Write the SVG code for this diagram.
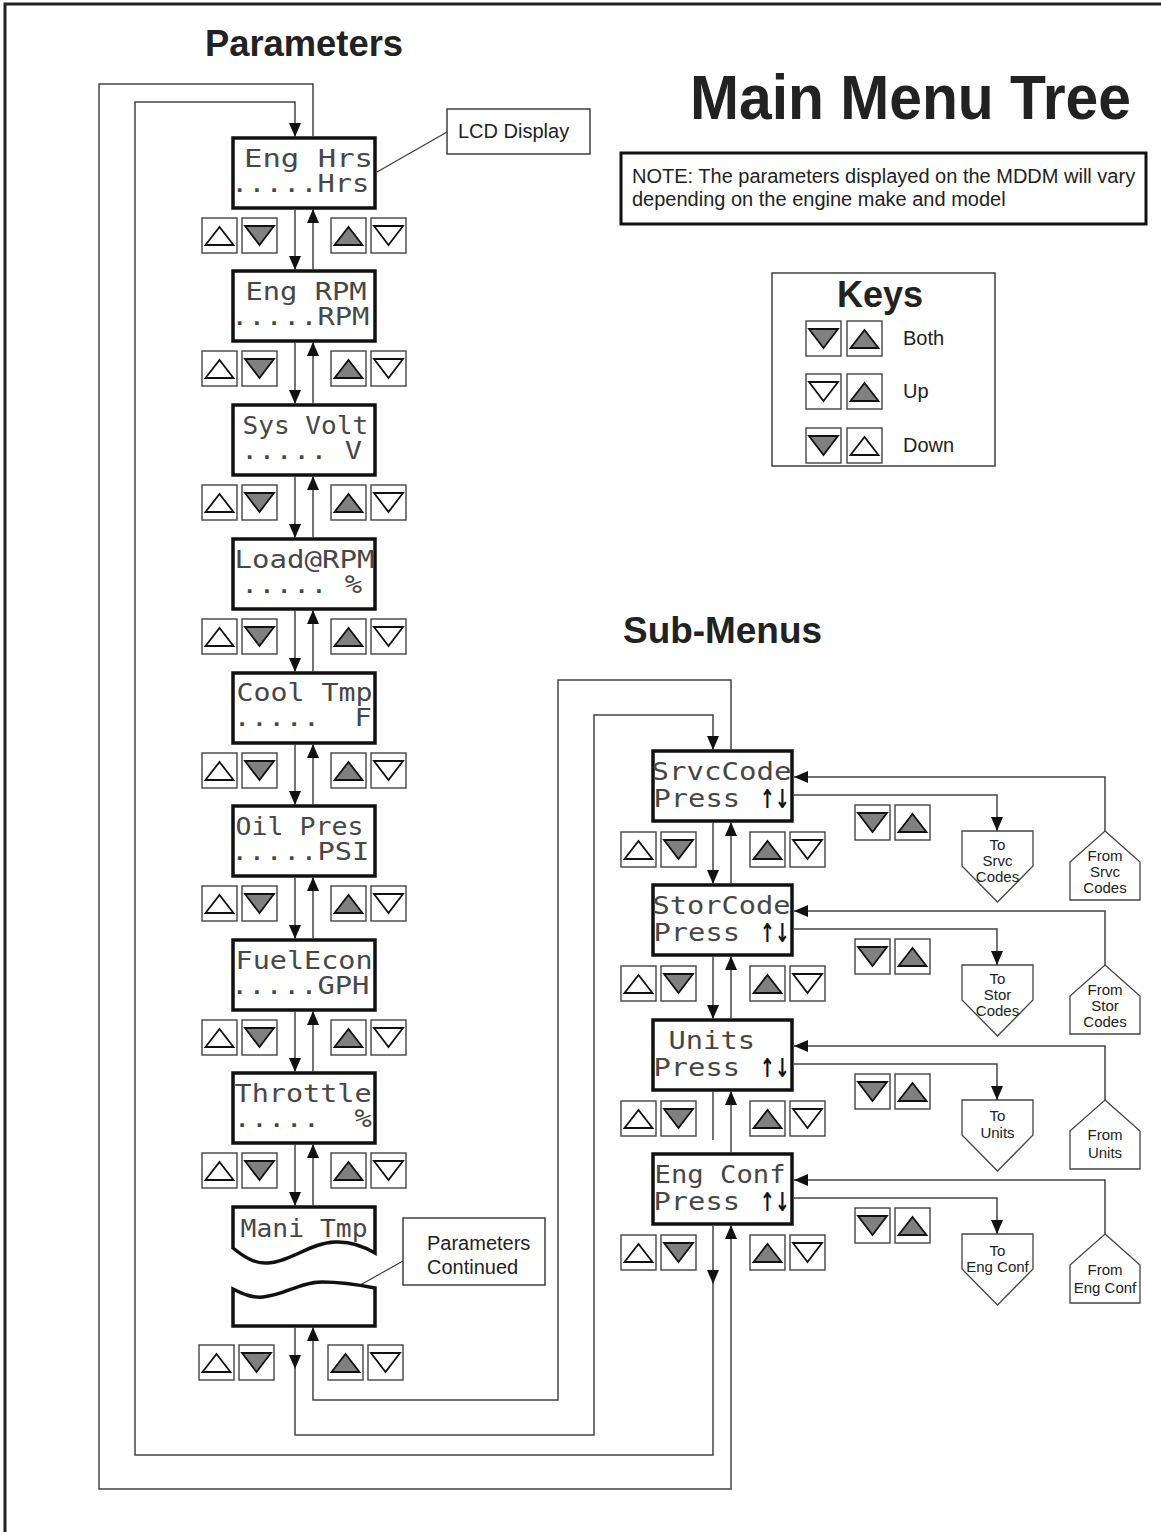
<svg xmlns="http://www.w3.org/2000/svg" xmlns:xlink="http://www.w3.org/1999/xlink" width="1161" height="1532" viewBox="0 0 1161 1532">
<style>
.btn{fill:#fff;stroke:#444;stroke-width:1.4}
.tw{fill:#fff;stroke:#111;stroke-width:1.8}
.tg{fill:#808080;stroke:#111;stroke-width:1.8}
.lcd{fill:#fff;stroke:#111;stroke-width:3.5}
.dm{font-family:"DejaVu Sans Mono","Liberation Mono",monospace;font-size:24px;fill:#474747}
.arr{font-family:"DejaVu Sans",sans-serif;font-weight:bold;font-size:26px;fill:#111}
.cn{fill:none;stroke:#444;stroke-width:1.5}
.ld{fill:none;stroke:#333;stroke-width:1.1}
.box{fill:#fff;stroke:#333;stroke-width:1.4}
.lbl{font-family:"Liberation Sans",Arial,sans-serif;font-size:20px;fill:#222}
.hd{font-family:"Liberation Sans",Arial,sans-serif;font-weight:bold;fill:#222}
.pt{font-family:"Liberation Sans",Arial,sans-serif;font-size:15px;text-anchor:middle;fill:#222}
.pent{fill:#fff;stroke:#444;stroke-width:1.3}
</style>
<defs>
<marker id="ah" viewBox="0 0 14 12" refX="14" refY="6" markerWidth="14" markerHeight="12" markerUnits="userSpaceOnUse" orient="auto"><path d="M0,0 L14,6 L0,12 z" fill="#111"/></marker>
<g id="bUW"><rect class="btn" width="35" height="35"/><polygon class="tw" points="3.5,27 31.5,27 17.5,9"/></g>
<g id="bUG"><rect class="btn" width="35" height="35"/><polygon class="tg" points="3.5,27 31.5,27 17.5,9"/></g>
<g id="bDW"><rect class="btn" width="35" height="35"/><polygon class="tw" points="3,8 32,8 17.5,27"/></g>
<g id="bDG"><rect class="btn" width="35" height="35"/><polygon class="tg" points="3,8 32,8 17.5,27"/></g>
</defs>
<rect width="1161" height="1532" fill="#fff"/>
<rect x="5" y="4" width="1170" height="1545" fill="none" stroke="#222" stroke-width="3"/>

<text class="hd" x="205" y="56" font-size="36" textLength="198" lengthAdjust="spacingAndGlyphs">Parameters</text>
<text class="hd" x="690" y="119" font-size="63" textLength="441" lengthAdjust="spacingAndGlyphs">Main Menu Tree</text>
<text class="hd" x="623" y="643" font-size="36" textLength="199" lengthAdjust="spacingAndGlyphs">Sub-Menus</text>

<g id="note">
<rect x="621" y="153" width="525" height="71" fill="#fff" stroke="#111" stroke-width="3"/>
<text class="lbl" x="632" y="183">NOTE: The parameters displayed on the MDDM will vary</text>
<text class="lbl" x="632" y="206">depending on the engine make and model</text>
</g>

<g id="keys">
<rect class="box" x="772" y="273" width="223" height="193"/>
<text class="hd" x="880" y="307" font-size="36" text-anchor="middle">Keys</text>
<use href="#bDG" x="806" y="321"/><use href="#bUG" x="847" y="321"/><text class="lbl" x="903" y="345">Both</text>
<use href="#bDW" x="806" y="374"/><use href="#bUG" x="847" y="374"/><text class="lbl" x="903" y="398">Up</text>
<use href="#bDG" x="806" y="428"/><use href="#bUW" x="847" y="428"/><text class="lbl" x="903" y="452">Down</text>
</g>

<g id="lcd-label">
<rect class="box" x="447" y="109" width="143" height="45"/>
<text class="lbl" x="458" y="138">LCD Display</text>
<path class="ld" d="M447,132 L377,172"/>
</g>

<g id="continued-label">
<rect class="box" x="403" y="1218" width="142" height="67"/>
<text class="lbl" x="427" y="1250">Parameters</text>
<text class="lbl" x="427" y="1274">Continued</text>
<path class="ld" d="M403,1261 L330,1302"/>
</g>

<!-- parameter nodes -->
<g id="p-enghrs"><rect class="lcd" x="233" y="138" width="142" height="70"/><text class="dm" x="244" y="167" textLength="129" lengthAdjust="spacingAndGlyphs" xml:space="preserve">Eng Hrs</text><text class="dm" x="231" y="192" textLength="138.4" lengthAdjust="spacingAndGlyphs" xml:space="preserve">.....Hrs</text></g>
<g id="p-engrpm"><rect class="lcd" x="233" y="271" width="142" height="70"/><text class="dm" x="245.5" y="300" textLength="121.1" lengthAdjust="spacingAndGlyphs" xml:space="preserve">Eng RPM</text><text class="dm" x="231" y="325" textLength="138.4" lengthAdjust="spacingAndGlyphs" xml:space="preserve">.....RPM</text></g>
<g id="p-sysvolt"><rect class="lcd" x="233" y="405" width="142" height="70"/><text class="dm" x="242.5" y="434" textLength="125.6" lengthAdjust="spacingAndGlyphs" xml:space="preserve">Sys Volt</text><text class="dm" x="241" y="459" textLength="121.1" lengthAdjust="spacingAndGlyphs" xml:space="preserve">..... V</text></g>
<g id="p-load"><rect class="lcd" x="233" y="539" width="142" height="70"/><text class="dm" x="234.5" y="568" textLength="140" lengthAdjust="spacingAndGlyphs" xml:space="preserve">Load@RPM</text><text class="dm" x="241" y="593" textLength="121.1" lengthAdjust="spacingAndGlyphs" xml:space="preserve">..... %</text></g>
<g id="p-cooltmp"><rect class="lcd" x="233" y="673" width="142" height="70"/><text class="dm" x="236.5" y="701" textLength="136" lengthAdjust="spacingAndGlyphs" xml:space="preserve">Cool Tmp</text><text class="dm" x="233.5" y="726" textLength="138.4" lengthAdjust="spacingAndGlyphs" xml:space="preserve">.....  F</text></g>
<g id="p-oilpres"><rect class="lcd" x="233" y="806" width="142" height="70"/><text class="dm" x="235.5" y="835" textLength="128" lengthAdjust="spacingAndGlyphs" xml:space="preserve">Oil Pres</text><text class="dm" x="231" y="860" textLength="138.4" lengthAdjust="spacingAndGlyphs" xml:space="preserve">.....PSI</text></g>
<g id="p-fuelecon"><rect class="lcd" x="233" y="940" width="142" height="70"/><text class="dm" x="235.5" y="969" textLength="137" lengthAdjust="spacingAndGlyphs" xml:space="preserve">FuelEcon</text><text class="dm" x="231" y="994" textLength="138.4" lengthAdjust="spacingAndGlyphs" xml:space="preserve">.....GPH</text></g>
<g id="p-throttle"><rect class="lcd" x="233" y="1073" width="142" height="70"/><text class="dm" x="234.5" y="1102" textLength="137" lengthAdjust="spacingAndGlyphs" xml:space="preserve">Throttle</text><text class="dm" x="233.5" y="1127" textLength="138.4" lengthAdjust="spacingAndGlyphs" xml:space="preserve">.....  %</text></g>
<g id="p-manitmp"><path class="lcd" d="M233,1207 H375 V1253 C365,1247 352,1241 335,1242 C310,1243 290,1262 268,1263 C255,1264 244,1257 233,1248 Z"/><text class="dm" x="240.5" y="1237" textLength="127" lengthAdjust="spacingAndGlyphs" xml:space="preserve">Mani Tmp</text></g>
<g id="p-continued"><path class="lcd" d="M233,1326 V1289 C243,1294 252,1298 263,1297 C285,1295 300,1282 322,1282 C345,1282 360,1285 375,1288 V1326 Z"/></g>

<!-- sub-menu nodes -->
<g id="s-srvccode"><rect class="lcd" x="653" y="751" width="139" height="70"/><text class="dm" x="651.5" y="780" textLength="140" lengthAdjust="spacingAndGlyphs" xml:space="preserve">SrvcCode</text><text class="dm" x="653.5" y="807" textLength="86.5" lengthAdjust="spacingAndGlyphs" xml:space="preserve">Press</text><text class="arr" x="760" y="808" textLength="30" lengthAdjust="spacingAndGlyphs">↑↓</text></g>
<g id="s-storcode"><rect class="lcd" x="653" y="885" width="139" height="70"/><text class="dm" x="652.5" y="914" textLength="138" lengthAdjust="spacingAndGlyphs" xml:space="preserve">StorCode</text><text class="dm" x="653.5" y="941" textLength="86.5" lengthAdjust="spacingAndGlyphs" xml:space="preserve">Press</text><text class="arr" x="760" y="942" textLength="30" lengthAdjust="spacingAndGlyphs">↑↓</text></g>
<g id="s-units"><rect class="lcd" x="653" y="1020" width="139" height="70"/><text class="dm" x="668.5" y="1049" textLength="86.5" lengthAdjust="spacingAndGlyphs" xml:space="preserve">Units</text><text class="dm" x="653.5" y="1076" textLength="86.5" lengthAdjust="spacingAndGlyphs" xml:space="preserve">Press</text><text class="arr" x="760" y="1077" textLength="30" lengthAdjust="spacingAndGlyphs">↑↓</text></g>
<g id="s-engconf"><rect class="lcd" x="653" y="1154" width="139" height="70"/><text class="dm" x="654.5" y="1183" textLength="131" lengthAdjust="spacingAndGlyphs" xml:space="preserve">Eng Conf</text><text class="dm" x="653.5" y="1210" textLength="86.5" lengthAdjust="spacingAndGlyphs" xml:space="preserve">Press</text><text class="arr" x="760" y="1211" textLength="30" lengthAdjust="spacingAndGlyphs">↑↓</text></g>

<!-- to / from pentagons -->
<g id="to-srvc"><path class="pent" d="M962,831 H1033 V866 L997.5,902 L962,866 Z"/><text class="pt" x="997.5" y="850">To</text><text class="pt" x="997.5" y="866">Srvc</text><text class="pt" x="997.5" y="882">Codes</text></g>
<g id="from-srvc"><path class="pent" d="M1105,831 L1140,862 V900 H1070 V862 Z"/><text class="pt" x="1105" y="861">From</text><text class="pt" x="1105" y="877">Srvc</text><text class="pt" x="1105" y="893">Codes</text></g>
<g id="to-stor"><path class="pent" d="M962,965 H1033 V1000 L997.5,1036 L962,1000 Z"/><text class="pt" x="997.5" y="984">To</text><text class="pt" x="997.5" y="1000">Stor</text><text class="pt" x="997.5" y="1016">Codes</text></g>
<g id="from-stor"><path class="pent" d="M1105,965 L1140,996 V1034 H1070 V996 Z"/><text class="pt" x="1105" y="995">From</text><text class="pt" x="1105" y="1011">Stor</text><text class="pt" x="1105" y="1027">Codes</text></g>
<g id="to-units"><path class="pent" d="M962,1100 H1033 V1135 L997.5,1171 L962,1135 Z"/><text class="pt" x="997.5" y="1121">To</text><text class="pt" x="997.5" y="1138">Units</text></g>
<g id="from-units"><path class="pent" d="M1105,1100 L1140,1131 V1169 H1070 V1131 Z"/><text class="pt" x="1105" y="1140">From</text><text class="pt" x="1105" y="1158">Units</text></g>
<g id="to-engconf"><path class="pent" d="M962,1234 H1033 V1269 L997.5,1305 L962,1269 Z"/><text class="pt" x="997.5" y="1256">To</text><text class="pt" x="997.5" y="1272">Eng Conf</text></g>
<g id="from-engconf"><path class="pent" d="M1105,1234 L1140,1265 V1303 H1070 V1265 Z"/><text class="pt" x="1105" y="1275">From</text><text class="pt" x="1105" y="1293">Eng Conf</text></g>

<!-- key pairs -->
<g id="buttons">
<use href="#bUW" x="202" y="218"/><use href="#bDG" x="242" y="218"/><use href="#bUG" x="331" y="218"/><use href="#bDW" x="371" y="218"/>
<use href="#bUW" x="202" y="351"/><use href="#bDG" x="242" y="351"/><use href="#bUG" x="331" y="351"/><use href="#bDW" x="371" y="351"/>
<use href="#bUW" x="202" y="485"/><use href="#bDG" x="242" y="485"/><use href="#bUG" x="331" y="485"/><use href="#bDW" x="371" y="485"/>
<use href="#bUW" x="202" y="619"/><use href="#bDG" x="242" y="619"/><use href="#bUG" x="331" y="619"/><use href="#bDW" x="371" y="619"/>
<use href="#bUW" x="202" y="753"/><use href="#bDG" x="242" y="753"/><use href="#bUG" x="331" y="753"/><use href="#bDW" x="371" y="753"/>
<use href="#bUW" x="202" y="886"/><use href="#bDG" x="242" y="886"/><use href="#bUG" x="331" y="886"/><use href="#bDW" x="371" y="886"/>
<use href="#bUW" x="202" y="1020"/><use href="#bDG" x="242" y="1020"/><use href="#bUG" x="331" y="1020"/><use href="#bDW" x="371" y="1020"/>
<use href="#bUW" x="202" y="1153"/><use href="#bDG" x="242" y="1153"/><use href="#bUG" x="331" y="1153"/><use href="#bDW" x="371" y="1153"/>
<use href="#bUW" x="199" y="1345"/><use href="#bDG" x="239" y="1345"/><use href="#bUG" x="328" y="1345"/><use href="#bDW" x="368" y="1345"/>
<use href="#bUW" x="621" y="832"/><use href="#bDG" x="661" y="832"/><use href="#bUG" x="750" y="832"/><use href="#bDW" x="790" y="832"/>
<use href="#bUW" x="621" y="966"/><use href="#bDG" x="661" y="966"/><use href="#bUG" x="750" y="966"/><use href="#bDW" x="790" y="966"/>
<use href="#bUW" x="621" y="1101"/><use href="#bDG" x="661" y="1101"/><use href="#bUG" x="750" y="1101"/><use href="#bDW" x="790" y="1101"/>
<use href="#bUW" x="621" y="1235"/><use href="#bDG" x="661" y="1235"/><use href="#bUG" x="750" y="1235"/><use href="#bDW" x="790" y="1235"/>
<use href="#bDG" x="855" y="805"/><use href="#bUG" x="895" y="805"/>
<use href="#bDG" x="855" y="939"/><use href="#bUG" x="895" y="939"/>
<use href="#bDG" x="855" y="1074"/><use href="#bUG" x="895" y="1074"/>
<use href="#bDG" x="855" y="1208"/><use href="#bUG" x="895" y="1208"/>
</g>

<g id="connectors" class="cn" marker-end="url(#ah)">
<path d="M295,209 V270"/><path d="M313,270 V209"/>
<path d="M295,342 V404"/><path d="M313,404 V342"/>
<path d="M295,476 V538"/><path d="M313,538 V476"/>
<path d="M295,610 V672"/><path d="M313,672 V610"/>
<path d="M295,744 V805"/><path d="M313,805 V744"/>
<path d="M295,877 V939"/><path d="M313,939 V877"/>
<path d="M295,1011 V1072"/><path d="M313,1072 V1011"/>
<path d="M295,1144 V1206"/><path d="M313,1206 V1144"/>
<path d="M713,822 V884"/><path d="M731,884 V822"/>
<path d="M713,956 V1019"/><path d="M731,1019 V956"/>
<path d="M713,1091 V1140" marker-end="none"/><path d="M731,1153 V1091"/>
<path d="M313,137 V84 H99 V1489 H731 V1225"/>
<path d="M713,1225 V1455 H135 V102 H295 V137"/>
<path d="M295,1327 V1435 H594 V715 H713 V750"/>
<path d="M731,750 V680 H558 V1400 H313 V1327"/>
<path d="M794,795 H997 V831"/><path d="M1105,831 V777 H794"/>
<path d="M794,929 H997 V965"/><path d="M1105,965 V911 H794"/>
<path d="M794,1064 H997 V1100"/><path d="M1105,1100 V1046 H794"/>
<path d="M794,1198 H997 V1234"/><path d="M1105,1234 V1180 H794"/>
</g>
<g id="mid-arrows" fill="#111">
<path d="M289,1355 L301,1355 L295,1369 Z"/>
<path d="M707,1270 L719,1270 L713,1284 Z"/>
</g>
</svg>
